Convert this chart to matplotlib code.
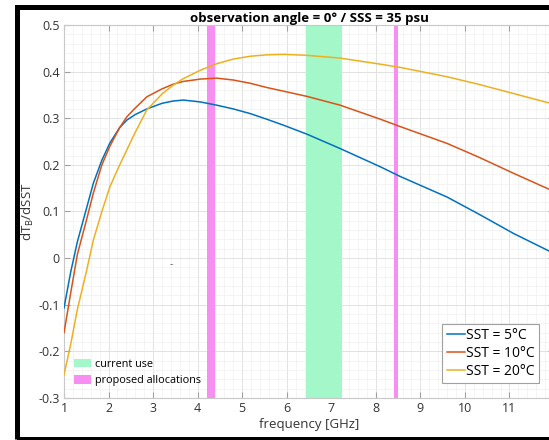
import numpy as np
import matplotlib
matplotlib.use("Agg")
import matplotlib.pyplot as plt
from matplotlib.patches import Rectangle, Patch
from matplotlib.ticker import MultipleLocator

plt.rcParams['font.family'] = ['Open Sans', 'DejaVu Sans']

# frequency grid [GHz] and dTb/dSST
freq = [1.0, 1.15, 1.3, 1.5, 1.66, 1.85, 2.03, 2.25, 2.41, 2.6, 2.86, 3.2, 3.45,
        3.68, 4.06, 4.43, 4.8, 5.18, 5.55, 5.93, 6.45, 7.2, 8.1, 8.55, 9.6, 10.3,
        11.09, 12.0]
sst5 = [-0.107, -0.03, 0.035, 0.105, 0.161, 0.21, 0.247, 0.28, 0.296, 0.308, 0.320,
        0.332, 0.337, 0.339, 0.335, 0.328, 0.320, 0.310, 0.298, 0.285, 0.266, 0.235,
        0.196, 0.175, 0.131, 0.095, 0.053, 0.010]
sst10 = [-0.16, -0.075, 0.008, 0.08, 0.14, 0.2, 0.24, 0.28, 0.303, 0.322, 0.346,
         0.363, 0.373, 0.379, 0.384, 0.386, 0.382, 0.375, 0.366, 0.358, 0.347, 0.328,
         0.298, 0.282, 0.246, 0.217, 0.182, 0.143]
sst20 = [-0.25, -0.185, -0.11, -0.03, 0.039, 0.1, 0.153, 0.2, 0.232, 0.27, 0.318,
         0.352, 0.371, 0.385, 0.403, 0.417, 0.427, 0.433, 0.436, 0.437, 0.435, 0.429,
         0.416, 0.409, 0.389, 0.373, 0.353, 0.330]
labels = ["SST = 5°C", "SST = 10°C", "SST = 20°C"]
colors = ["#0072BD", "#D95319", "#EDB120"]

current_band = (6.425, 7.25)
proposed_bands = [(4.2, 4.4), (8.4, 8.5)]

fig = plt.figure(figsize=(5.49, 4.40), dpi=100)
ax = fig.add_axes([64/549, 1-398/440, 490/549, 373/440])

green = "#a3f7c9"
pink = "#f78ff2"
ax.axvspan(*current_band, color=green, lw=0, zorder=1)
for b in proposed_bands:
    ax.axvspan(*b, color=pink, lw=0, zorder=1)

lines = []
for y, lab, c in zip([sst5, sst10, sst20], labels, colors):
    l, = ax.plot(freq, y, color=c, lw=1.1, label=lab, zorder=3)
    lines.append(l)

ax.set_xlim(1, 12)
ax.set_ylim(-0.3, 0.5)
ax.set_xticks(range(1, 12))
ax.xaxis.set_minor_locator(MultipleLocator(0.2))
ax.yaxis.set_minor_locator(MultipleLocator(0.02))
ax.set_yticks(np.arange(-0.3, 0.51, 0.1))
ax.set_yticklabels(["-0.3", "-0.2", "-0.1", "0", "0.1", "0.2", "0.3", "0.4", "0.5"])
ax.grid(which='major', color="#e2e2e2", lw=0.7, zorder=0)
ax.grid(which='minor', color="#f0f0f0", lw=0.5, zorder=0)
ax.set_axisbelow(True)
ax.tick_params(which='major', direction='in', length=4, top=True, right=True,
               color="#a0a0a0", labelsize=9, labelcolor="#333333", pad=3)
ax.tick_params(which='minor', length=0)
for s in ax.spines.values():
    s.set_color("#c8c8c8")
    s.set_linewidth(0.8)

ax.set_xlabel("frequency [GHz]", fontsize=9.5, color="#333333", labelpad=2)
ax.set_ylabel("dT$_\\mathregular{B}$/dSST", fontsize=9.5, color="#333333", labelpad=2)
ax.set_title("observation angle = 0° / SSS = 35 psu", fontsize=9.5,
             fontweight='bold', pad=2)

ax.text(3.43, -0.015, "--", fontsize=5, color="#555555", ha='center', va='center')

leg1 = ax.legend(handles=lines, loc='lower right', bbox_to_anchor=(0.969, 0.04),
                 fontsize=10, handlelength=1.3, handletextpad=0.1,
                 borderpad=0.3, labelspacing=0.2, borderaxespad=0, fancybox=False,
                 edgecolor="#a0a0a0", framealpha=1)
leg1.get_frame().set_linewidth(0.8)
ax.add_artist(leg1)

band_handles = [Patch(facecolor=green, edgecolor='none', label="current use"),
                Patch(facecolor=pink, edgecolor='none', label="proposed allocations")]
ax.legend(handles=band_handles, loc='lower left', bbox_to_anchor=(0.0, 0.005),
          fontsize=7.8, frameon=False, handlelength=1.6, handleheight=0.9,
          handletextpad=0.4, labelspacing=0.5)

# black screenshot frame
fig.add_artist(Rectangle((16.5/549, 1.5/440), 1.2, (431)/440,
                         transform=fig.transFigure, fill=False,
                         edgecolor='black', lw=3.6, clip_on=False))

fig.savefig("out.png", dpi=100)
